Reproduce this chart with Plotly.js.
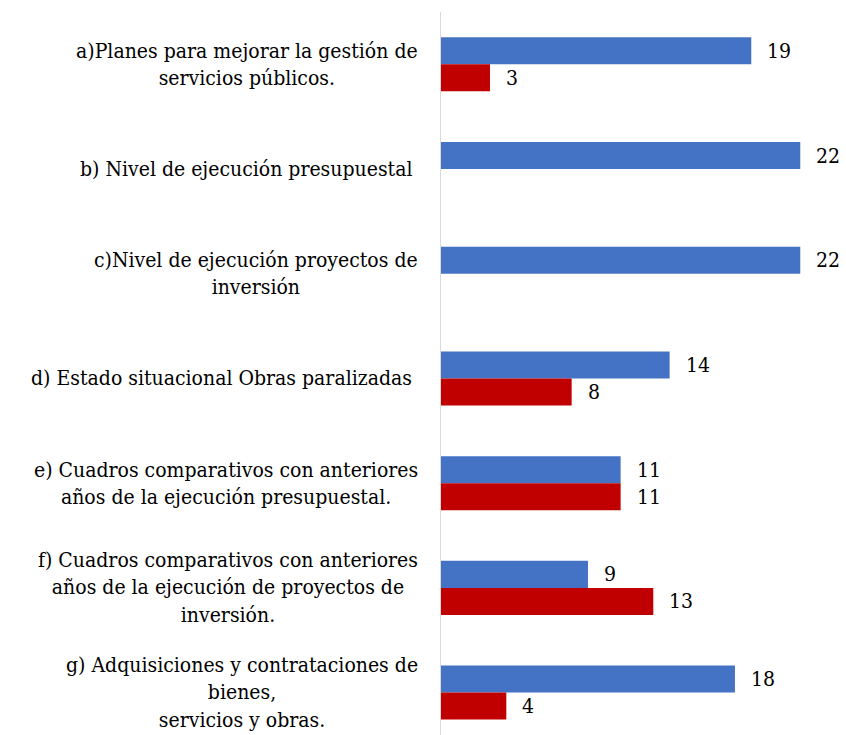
<!DOCTYPE html>
<html>
<head>
<meta charset="utf-8">
<script src="https://cdn.plot.ly/plotly-3.0.1.min.js"></script>
<style>html,body{margin:0;padding:0;background:#fff;}#chart{width:846px;height:735px;}</style>
</head>
<body>
<div id="chart"></div>
<script>
// Data
var categories = [
  "a)Planes para mejorar la gestión de<br>servicios públicos.",
  "b) Nivel de ejecución presupuestal\u00a0",
  "c)Nivel de ejecución proyectos de<br>inversión",
  "d) Estado situacional Obras paralizadas\u00a0",
  "e) Cuadros comparativos con anteriores<br>años de la ejecución presupuestal.",
  "f) Cuadros comparativos con anteriores<br>años de la ejecución de proyectos de<br>inversión.",
  "g) Adquisiciones y contrataciones de<br>bienes,<br>servicios y obras."
];
var seriesBlue = [19, 22, 22, 14, 11, 9, 18];
var seriesRed  = [3, null, null, 8, 11, 13, 4];

var FONT = "DejaVu Serif Condensed, DejaVu Serif, serif";
var FSIZE = 21;
var BLUE = "#4472C4";
var RED = "#C00000";

var traces = [
  {type: "bar", orientation: "h", y: categories, x: seriesBlue, name: "Serie 1",
   marker: {color: BLUE, line: {width: 0}}, hoverinfo: "x"},
  {type: "bar", orientation: "h", y: categories, x: seriesRed, name: "Serie 2",
   marker: {color: RED, line: {width: 0}}, hoverinfo: "x"}
];

var annotations = [];
// category labels
categories.forEach(function (c) {
  annotations.push({
    xref: "paper", yref: "y", x: 0, y: c, xshift: -21,
    xanchor: "right", yanchor: "middle", align: "center",
    text: c, showarrow: false,
    font: {family: FONT, size: FSIZE, color: "#000"}
  });
});
// value labels
function addLabels(vals, shift) {
  vals.forEach(function (v, i) {
    if (v === null) return;
    annotations.push({
      xref: "x", yref: "y", x: v, y: categories[i], xshift: 14, yshift: shift,
      xanchor: "left", yanchor: "middle", text: String(v), showarrow: false,
      font: {family: FONT, size: FSIZE, color: "#000"}
    });
  });
}
addLabels(seriesBlue, 13.5);
addLabels(seriesRed, -13.5);

var layout = {
  width: 846, height: 735,
  margin: {l: 441, r: 0, t: 12, b: 0, pad: 0},
  paper_bgcolor: "#fff", plot_bgcolor: "#fff",
  showlegend: false,
  barmode: "group", bargap: 0.484, bargroupgap: 0,
  xaxis: {range: [0, 24.8], showgrid: false, zeroline: false, showline: false,
          showticklabels: false, ticks: ""},
  yaxis: {type: "category", range: [6.405, -0.5], showgrid: false, zeroline: false,
          showline: true, linecolor: "#d9d9d9", linewidth: 1.5,
          showticklabels: false, ticks: ""},
  annotations: annotations,
  font: {family: FONT}
};

Plotly.newPlot("chart", traces, layout, {displayModeBar: false, staticPlot: true});
</script>
</body>
</html>
